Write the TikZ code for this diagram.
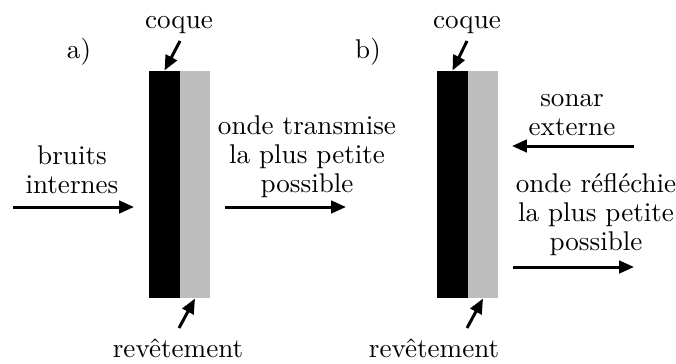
\documentclass[tikz,border=0pt]{standalone}
\usetikzlibrary{arrows.meta}
\definecolor{coatgray}{RGB}{190,190,190}
\begin{document}
\begin{tikzpicture}[x=0.369pt,y=-0.369pt,
  arr/.style={line width=1.1pt,-{Triangle[length=5.5pt,width=4.6pt]}},
  lbl/.style={inner sep=0pt,anchor=base,font=\fontsize{10}{10.7}\selectfont,align=center},
  hull/.style={fill=black,draw=none,inner sep=0pt,minimum width=31*0.369pt,minimum height=227*0.369pt},
  coat/.style={fill=coatgray,draw=none,inner sep=0pt,minimum width=30*0.369pt,minimum height=227*0.369pt}]
\useasboundingbox (0,0) rectangle (676,363);
% panel a
\node[hull] (hulla) at (164.5,184.5) {};
\node[coat] (coata) at (195,184.5) {};
\node[lbl] (la) at (79,58) {a)};
\node[lbl] (coquea) at (179,28) {coque};
\node[lbl] (reva) at (178,357) {revêtement};
\node[lbl] (bruits) at (72,193) {bruits\\internes};
\node[lbl] (trans) at (307,192) {onde transmise\\la plus petite\\possible};
\coordinate (cqa) at (180,41);
\coordinate (rva) at (179,328);
\coordinate (ina) at (13,207);
\coordinate (inb) at (134,207);
\coordinate (tra) at (225,207);
\coordinate (trb) at (346,207);
\draw[arr] (cqa) -- (hulla.north);
\draw[arr] (rva) -- (coata.south);
\draw[arr] (ina) -- (inb);
\draw[arr] (tra) -- (trb);
% panel b
\node[hull] (hullb) at (452.5,184.5) {};
\node[coat] (coatb) at (483,184.5) {};
\node[lbl] (lb) at (368,58) {b)};
\node[lbl] (coqueb) at (467,28) {coque};
\node[lbl] (revb) at (434,357) {revêtement};
\node[lbl] (sonar) at (572,135) {sonar\\externe};
\node[lbl] (refl) at (596,250) {onde réfléchie\\la plus petite\\possible};
\coordinate (cqb) at (467,41);
\coordinate (rvb) at (467,328);
\coordinate (soa) at (634,146);
\coordinate (sob) at (512,146);
\coordinate (rfa) at (513,267);
\coordinate (rfb) at (634,267);
\draw[arr] (cqb) -- (hullb.north);
\draw[arr] (rvb) -- (coatb.south);
\draw[arr] (soa) -- (sob);
\draw[arr] (rfa) -- (rfb);
\end{tikzpicture}
\end{document}
